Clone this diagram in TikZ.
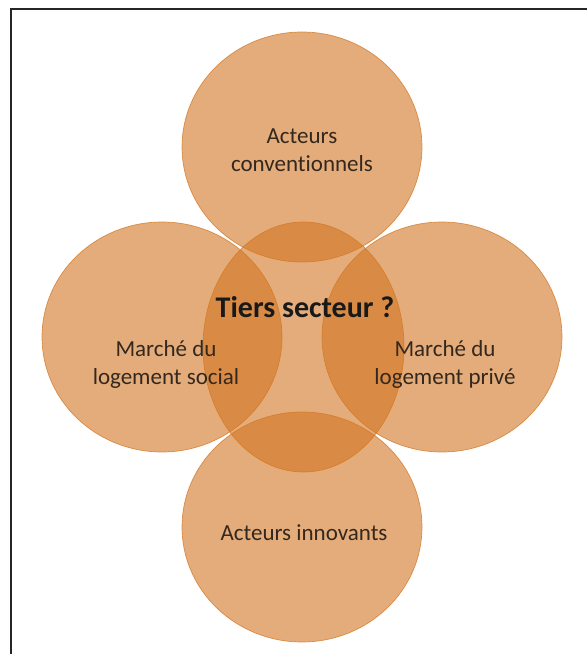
\documentclass[tikz,border=0pt]{standalone}
\usepackage{fontspec}
\setmainfont[Ligatures=NoCommon]{Carlito}
\usetikzlibrary{shapes.geometric}

\definecolor{orng}{RGB}{210,117,33}
\definecolor{txtcol}{RGB}{52,40,30}

\begin{document}
\begin{tikzpicture}[x=1pt, y=1pt,
  disc/.style={draw=orng, draw opacity=0.75, line width=0.7pt, fill=orng, fill opacity=0.6,
    ellipse, inner sep=0pt, outer sep=0pt, minimum width=240pt, minimum height=230pt},
  lbl/.style={text=txtcol, align=center, font=\fontsize{23}{28}\selectfont}]
  \useasboundingbox (0,0) rectangle (587,654);
  \draw[line width=1.8pt, black!85] (11,0) -- (11,645) -- (587,645);
  % circles
  \node[disc, minimum width=201pt, minimum height=250pt] (tiers) at (303.5,307) {};
  \node[disc] (conv) at (302,507) {};
  \node[disc] (soc) at (162,317) {};
  \node[disc] (priv) at (442,317) {};
  \node[disc] (innov) at (302,127) {};
  % texts
  \node[lbl] (convtxt) at (302,504) {Acteurs\\conventionnels};
  \node[lbl] (soctxt) at (166,290) {Marché du\\logement social};
  \node[lbl] (privtxt) at (445,290) {Marché du\\logement privé};
  \node[lbl] (innovtxt) at (304,121) {Acteurs innovants};
  \node[lbl, text=black!90, font=\bfseries\fontsize{30}{34}\selectfont] (tierstxt) at (305,347) {Tiers secteur ?};
\end{tikzpicture}
\end{document}
